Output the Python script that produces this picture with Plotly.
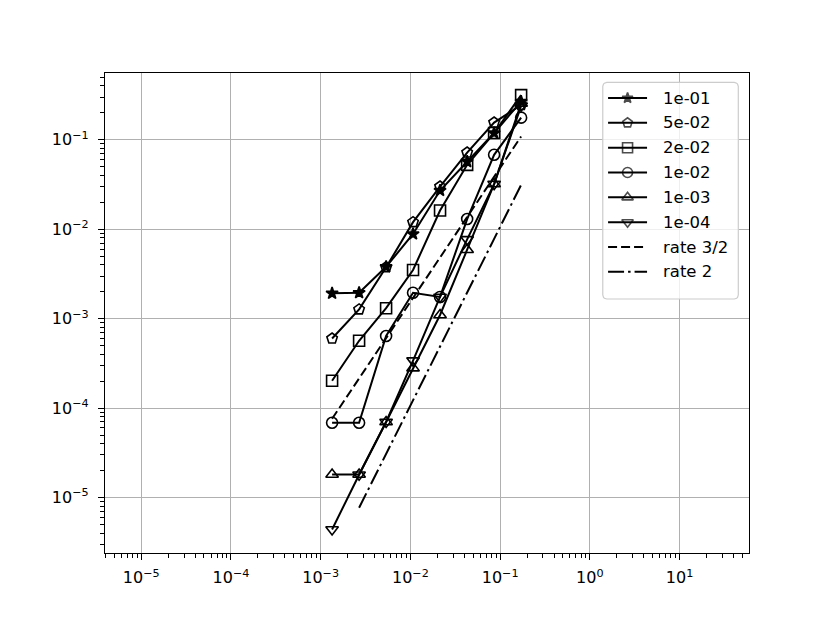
import numpy as np
import plotly.graph_objects as go

# ---- data ----
h = [0.00134, 0.00268, 0.00536, 0.0107, 0.0214, 0.0429, 0.0857, 0.1714]
err_1e01 = [1.92e-3, 1.95e-3, 3.8e-3, 8.85e-3, 2.71e-2, 5.7e-2, 0.119, 0.268]
err_5e02 = [6.0e-4, 1.27e-3, 3.75e-3, 1.2e-2, 3.0e-2, 7.2e-2, 0.156, 0.245]
err_2e02 = [2.02e-4, 5.66e-4, 1.31e-3, 3.5e-3, 1.62e-2, 5.25e-2, 0.119, 0.316]
err_1e02 = [6.86e-5, 6.86e-5, 6.4e-4, 1.95e-3, 1.75e-3, 1.3e-2, 6.8e-2, 0.177]
err_1e03 = [1.81e-5, 1.81e-5, 7.0e-5, 2.8e-4, 1.1e-3, 5.9e-3, 3.2e-2, 0.255]
err_1e04 = [4.4e-6, 1.8e-5, 7.0e-5, 3.4e-4, 1.75e-3, 7.7e-3, 3.2e-2, 0.24]
rate32 = [7.6e-5, 2.15e-4, 6.1e-4, 1.72e-3, 4.85e-3, 1.37e-2, 3.87e-2, 0.109]
rate2_h = h[1:]
rate2 = [7.7e-6, 3.1e-5, 1.23e-4, 4.9e-4, 1.96e-3, 7.8e-3, 3.13e-2]

labels = ["1e-01", "5e-02", "2e-02", "1e-02", "1e-03", "1e-04", "rate 3/2", "rate 2"]
series = [err_1e01, err_5e02, err_2e02, err_1e02, err_1e03, err_1e04]
symbols = ["star", "pentagon-open", "square-open", "circle-open",
           "triangle-up-open", "triangle-down-open"]
msizes = [9, 11, 11, 11, 11, 11]

x_tickvals = [1e-5, 1e-4, 1e-3, 1e-2, 1e-1, 1e0, 1e1]
x_ticktext = ["10<sup>\u22125</sup>", "10<sup>\u22124</sup>", "10<sup>\u22123</sup>",
              "10<sup>\u22122</sup>", "10<sup>\u22121</sup>", "10<sup>0</sup>", "10<sup>1</sup>"]
y_tickvals = [1e-5, 1e-4, 1e-3, 1e-2, 1e-1]
y_ticktext = ["10<sup>\u22125</sup>", "10<sup>\u22124</sup>", "10<sup>\u22123</sup>",
              "10<sup>\u22122</sup>", "10<sup>\u22121</sup>"]

FONT = "DejaVu Sans"
OFF = 8  # page body margin
W, H = 830 - OFF, 622 - OFF
# plot area in page pixels, converted to figure pixels
L, R, T, B = 104.7 - OFF, 749.0 - OFF, 73.3 - OFF, 552.7 - OFF
DASH32 = "9px,4px"
DASHDOT = "16px,4px,2.5px,4px"

fig = go.Figure()
for s, sym, ms, lab in zip(series, symbols, msizes, labels):
    fig.add_trace(go.Scatter(
        x=h, y=s, mode="lines+markers", name=lab, showlegend=False,
        line=dict(color="black", width=2),
        marker=dict(symbol=sym, size=ms, color="black", line=dict(color="black", width=1.6)),
    ))
fig.add_trace(go.Scatter(x=h, y=rate32, mode="lines", showlegend=False,
                         line=dict(color="black", width=2, dash=DASH32)))
fig.add_trace(go.Scatter(x=rate2_h, y=rate2, mode="lines", showlegend=False,
                         line=dict(color="black", width=2, dash=DASHDOT)))

def minor_vals(lo, hi):
    out = []
    for e in range(lo, hi + 1):
        for m in range(2, 10):
            out.append(m * 10.0 ** e)
    return out

axis_common = dict(
    type="log", showline=True, linecolor="black", linewidth=1.3, mirror=True,
    ticks="outside", ticklen=6, tickwidth=1.3, tickcolor="black",
    showgrid=True, gridcolor="#b0b0b0", gridwidth=1.3, zeroline=False,
    tickfont=dict(family=FONT, size=16, color="black"), tickmode="array",
)
fig.update_xaxes(**axis_common, range=[-5.404, 1.774], tickvals=x_tickvals, ticktext=x_ticktext,
                 ticklabelstandoff=4,
                 minor=dict(tickmode="array", tickvals=minor_vals(-6, 1), ticks="outside",
                            ticklen=3.5, tickwidth=1, tickcolor="black", showgrid=False))
fig.update_yaxes(**axis_common, range=[-5.620, -0.253], tickvals=y_tickvals, ticktext=y_ticktext,
                 ticklabelstandoff=6,
                 minor=dict(tickmode="array", tickvals=minor_vals(-6, -1), ticks="outside",
                            ticklen=3.5, tickwidth=1, tickcolor="black", showgrid=False))

# ---- legend drawn on an overlay axis in (page) pixel units ----
fig.update_layout(
    xaxis2=dict(overlaying="x", range=[L + OFF, R + OFF], visible=False, fixedrange=True),
    yaxis2=dict(overlaying="y", range=[B + OFF, T + OFF], visible=False, fixedrange=True),
)
lx0, lx1, ly0, ly1 = 602.7, 738.3, 82.7, 299.0
rad = 4.0
ang = np.linspace(0, np.pi / 2, 6)
bx, by = [], []
for cx, cy, a0 in [(lx1 - rad, ly0 + rad, -np.pi / 2), (lx1 - rad, ly1 - rad, 0.0),
                   (lx0 + rad, ly1 - rad, np.pi / 2), (lx0 + rad, ly0 + rad, np.pi)]:
    for a in ang:
        bx.append(cx + rad * np.cos(a0 + a))
        by.append(cy + rad * np.sin(a0 + a))
bx.append(bx[0]); by.append(by[0])
fig.add_trace(go.Scatter(x=bx, y=by, xaxis="x2", yaxis="y2", mode="lines", fill="toself",
                         fillcolor="rgba(255,255,255,0.8)", line=dict(color="#cccccc", width=1.2),
                         showlegend=False, hoverinfo="skip"))

row0, dy = 98.3, 24.8
sx0, sx1, tx = 608, 647, 661
for i, lab in enumerate(labels):
    yy = row0 + i * dy
    if i < 6:
        fig.add_trace(go.Scatter(
            x=[sx0, (sx0 + sx1) / 2, sx1], y=[yy, yy, yy], xaxis="x2", yaxis="y2",
            mode="lines+markers", showlegend=False, hoverinfo="skip",
            line=dict(color="black", width=2),
            marker=dict(symbol=["circle", symbols[i], "circle"], size=[0, msizes[i] - 1, 0],
                        color="black", line=dict(color="black", width=1.6)),
        ))
    else:
        fig.add_trace(go.Scatter(
            x=[sx0, sx1], y=[yy, yy], xaxis="x2", yaxis="y2", mode="lines",
            showlegend=False, hoverinfo="skip",
            line=dict(color="black", width=2, dash=DASH32 if i == 6 else DASHDOT),
        ))
    fig.add_annotation(x=tx, y=yy, xref="x2", yref="y2", text=lab, showarrow=False,
                       xanchor="left", yanchor="middle",
                       font=dict(family=FONT, size=16.5, color="black"))

fig.update_layout(
    width=W, height=H, autosize=False,
    margin=dict(l=L, r=W - R, t=T, b=H - B, pad=0),
    paper_bgcolor="white", plot_bgcolor="white",
    font=dict(family=FONT, size=16, color="black"),
    showlegend=False,
)
fig.write_html("out.html")
